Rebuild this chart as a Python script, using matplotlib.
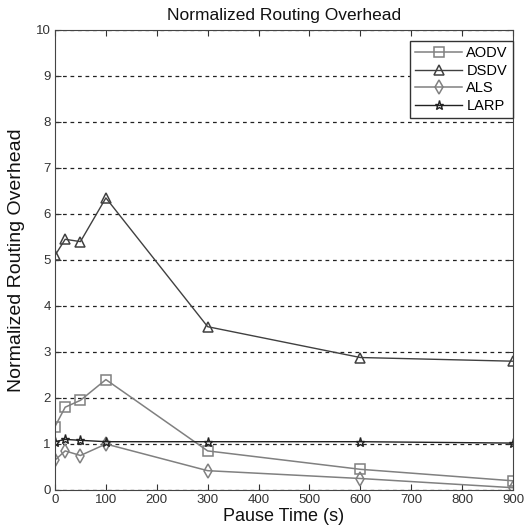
import matplotlib
matplotlib.use("Agg")
import matplotlib.pyplot as plt
from matplotlib import font_manager

names = {f.name for f in font_manager.fontManager.ttflist}
base = 'Liberation Sans Narrow' if 'Liberation Sans Narrow' in names else 'Liberation Sans'
plt.rcParams['font.family'] = ['Liberation Sans', 'DejaVu Sans']

pause = [0, 20, 50, 100, 300, 600, 900]
aodv = [1.38, 1.8, 1.95, 2.4, 0.85, 0.45, 0.2]
dsdv = [5.1, 5.45, 5.4, 6.35, 3.55, 2.88, 2.8]
als = [0.65, 0.85, 0.75, 1.0, 0.42, 0.25, 0.05]
larp = [1.05, 1.1, 1.08, 1.05, 1.05, 1.05, 1.02]

fig = plt.figure(figsize=(5.24, 5.31), dpi=100)
ax = fig.add_axes([55/524, 1-490/531, 458/524, 460/531])

ax.plot(pause, aodv, color='#808080', marker='s', ms=7, mfc='none', mew=1.1, lw=1.1, label='AODV')
ax.plot(pause, dsdv, color='#404040', marker='^', ms=7, mfc='none', mew=1.1, lw=1.0, label='DSDV')
ax.plot(pause, als, color='#808080', marker='d', ms=7, mfc='none', mew=1.1, lw=1.1, label='ALS')
ax.plot(pause, larp, color='#222222', marker='*', ms=6.5, mfc='none', mew=1.0, lw=1.0, label='LARP')

ax.set_xlim(0, 900)
ax.set_ylim(0, 10)
ax.set_xticks(range(0, 901, 100))
ax.set_yticks(range(0, 11))
ax.yaxis.grid(True, linestyle=(0, (3, 3)), color='#222222', lw=0.9)
ax.set_axisbelow(True)
ax.tick_params(direction='in', top=True, right=True, length=4, colors='#333333', pad=3)
for lab in ax.get_xticklabels() + ax.get_yticklabels():
    lab.set_family([base, 'DejaVu Sans'])
    lab.set_fontsize(11 if base.endswith('Narrow') else 9.5)
for s in ax.spines.values():
    s.set_color('#444444')

ax.set_title('Normalized Routing Overhead', fontsize=12.5, pad=7, color='#111111')
ax.set_xlabel('Pause Time (s)', fontsize=13, labelpad=1, color='#111111')
ax.set_ylabel('Normalized Routing Overhead', fontsize=14, labelpad=8, color='#111111')

leg = ax.legend(loc='upper right', bbox_to_anchor=(1.0, 0.976), fontsize=10.5,
                handlelength=3.2, handletextpad=0.3, fancybox=False,
                edgecolor='#333333', framealpha=1, borderaxespad=0.0,
                labelspacing=0.25, borderpad=0.35)

fig.savefig('out.png', dpi=100)
